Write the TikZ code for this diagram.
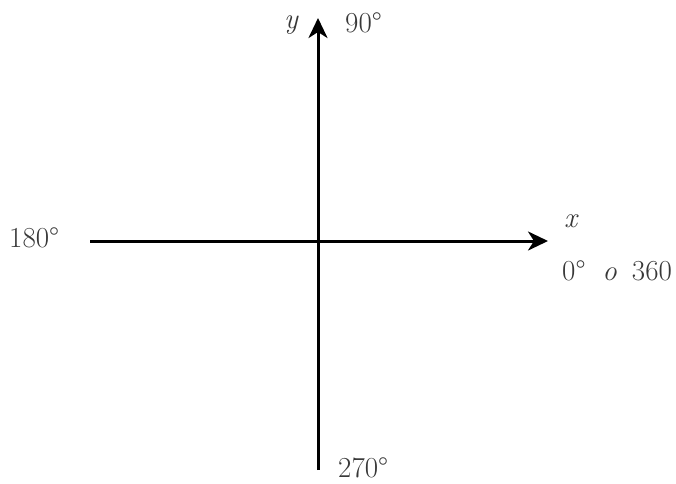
\documentclass[tikz,border=0pt]{standalone}
\usepackage{fontspec}
\usetikzlibrary{arrows.meta}
\begin{document}
\begin{tikzpicture}[x=1pt,y=-1pt,
  axis/.style={line width=3pt,-{Stealth[length=20pt,width=19pt,inset=6pt]}},
  lbl/.style={text=black!78,font=\fontsize{29}{32}\selectfont,inner sep=0pt,anchor=base west}]
\useasboundingbox (0,0) rectangle (676,483);
\coordinate (xs) at (90,241);
\coordinate (xe) at (548,241);
\coordinate (ys) at (318,470);
\coordinate (ye) at (318,18);
\draw[axis] (xs) -- (xe);
\draw[axis] (ys) -- (ye);
\node[lbl] (ylab) at (284,28) {\textit{y}};
\node[lbl] (n90) at (345,32) {90°};
\node[lbl] (n180) at (9,247) {180°};
\node[lbl] (xlab) at (564,227) {\textit{x}};
\node[lbl] (n0) at (562,280) {0°\hspace{17pt}\textit{o}\hspace{15pt}360};
\node[lbl] (n270) at (338,477) {270°};
\end{tikzpicture}
\end{document}
